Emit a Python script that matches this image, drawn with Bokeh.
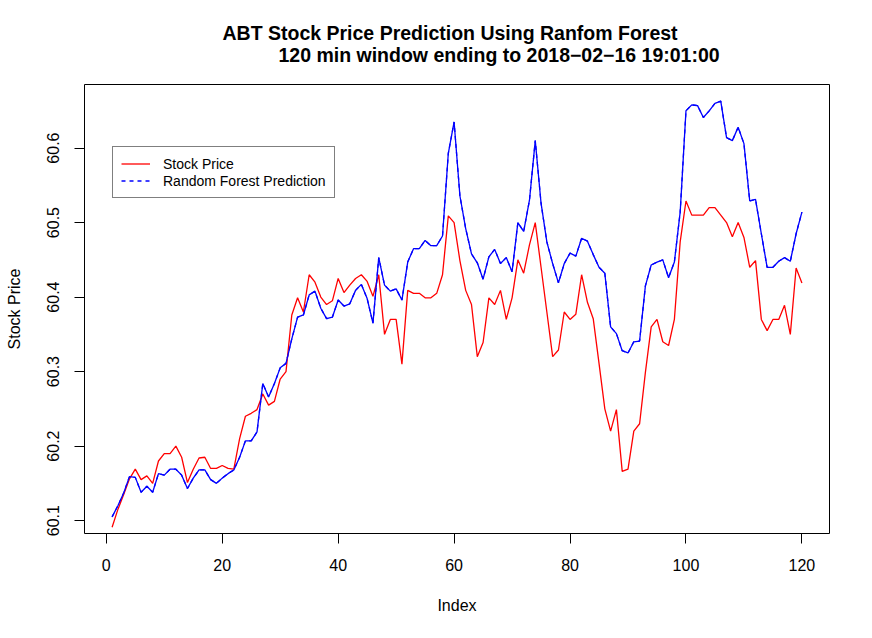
from bokeh.plotting import figure
from bokeh.models import Range1d, Title, Legend, LegendItem, FixedTicker
from bokeh.embed import file_html
from bokeh.resources import INLINE

index = list(range(1, 121))

stock_price = [
    60.091, 60.115, 60.135, 60.156, 60.169, 60.155, 60.160, 60.150, 60.180, 60.190,
    60.190, 60.200, 60.185, 60.151, 60.169, 60.184, 60.185, 60.170, 60.170, 60.174,
    60.170, 60.169, 60.210, 60.240, 60.244, 60.249, 60.270, 60.255, 60.260, 60.290,
    60.300, 60.376, 60.399, 60.380, 60.430, 60.420, 60.400, 60.390, 60.395, 60.425,
    60.406, 60.416, 60.425, 60.430, 60.421, 60.401, 60.430, 60.350, 60.370, 60.370,
    60.310, 60.409, 60.405, 60.405, 60.399, 60.399, 60.405, 60.430, 60.509, 60.500,
    60.449, 60.409, 60.390, 60.320, 60.339, 60.399, 60.390, 60.409, 60.370, 60.399,
    60.450, 60.432, 60.470, 60.500, 60.440, 60.380, 60.320, 60.329, 60.380, 60.370,
    60.377, 60.430, 60.393, 60.371, 60.311, 60.250, 60.220, 60.249, 60.166, 60.169,
    60.220, 60.230, 60.299, 60.360, 60.370, 60.340, 60.335, 60.370, 60.474, 60.529,
    60.510, 60.510, 60.510, 60.520, 60.520, 60.510, 60.500, 60.481, 60.500, 60.480,
    60.440, 60.449, 60.370, 60.355, 60.370, 60.370, 60.389, 60.350, 60.439, 60.419,
]

rf_prediction = [
    60.105, 60.120, 60.137, 60.159, 60.158, 60.138, 60.146, 60.138, 60.163, 60.161,
    60.169, 60.169, 60.161, 60.143, 60.157, 60.168, 60.168, 60.155, 60.150, 60.157,
    60.163, 60.168, 60.185, 60.207, 60.207, 60.219, 60.284, 60.266, 60.284, 60.305,
    60.311, 60.344, 60.373, 60.376, 60.403, 60.408, 60.385, 60.371, 60.373, 60.396,
    60.388, 60.391, 60.409, 60.417, 60.398, 60.365, 60.453, 60.416, 60.408, 60.411,
    60.396, 60.447, 60.465, 60.465, 60.476, 60.469, 60.469, 60.482, 60.593, 60.635,
    60.536, 60.492, 60.458, 60.446, 60.424, 60.454, 60.464, 60.445, 60.453, 60.434,
    60.500, 60.488, 60.530, 60.610, 60.526, 60.474, 60.445, 60.419, 60.445, 60.459,
    60.455, 60.479, 60.475, 60.457, 60.440, 60.432, 60.360, 60.351, 60.328, 60.325,
    60.340, 60.341, 60.415, 60.443, 60.447, 60.450, 60.426, 60.447, 60.514, 60.650,
    60.658, 60.657, 60.641, 60.650, 60.660, 60.663, 60.614, 60.610, 60.628, 60.606,
    60.529, 60.531, 60.485, 60.440, 60.440, 60.448, 60.453, 60.448, 60.485, 60.514,
]

x_ticks = [0, 20, 40, 60, 80, 100, 120]
y_ticks = [60.1, 60.2, 60.3, 60.4, 60.5, 60.6]

title_line1 = "ABT Stock Price Prediction Using Ranfom Forest"
title_line2 = "120 min window ending to 2018\u221202\u221216 19:01:00"
x_label = "Index"
y_label = "Stock Price"
legend_labels = ["Stock Price", "Random Forest Prediction"]

FONT = "Liberation Sans"

# R-style 4% axis extension
x_pad = (max(index) - min(index)) * 0.04
y_pad = (max(rf_prediction) - min(rf_prediction)) * 0.04

p = figure(
    width=872, height=638,
    output_backend="svg", toolbar_location=None,
    x_range=Range1d(min(index) - x_pad, max(index) + x_pad),
    y_range=Range1d(min(rf_prediction) - y_pad, max(rf_prediction) + y_pad),
    min_border_left=84, min_border_right=43, min_border_top=84, min_border_bottom=105,
    background_fill_color="white", border_fill_color="white",
)
p.title.visible = False
p.xgrid.visible = False
p.ygrid.visible = False
p.outline_line_color = "#000000"
p.outline_line_width = 1

for ax in (p.xaxis[0], p.yaxis[0]):
    ax.axis_line_color = None
    ax.major_tick_in = 0
    ax.major_tick_out = 10
    ax.major_tick_line_color = "#000000"
    ax.major_tick_line_width = 1
    ax.minor_tick_line_color = None
    ax.major_label_text_font = FONT
    ax.major_label_text_font_size = "16px"
    ax.major_label_text_color = "#000000"
    ax.axis_label_text_font = FONT
    ax.axis_label_text_font_size = "16px"
    ax.axis_label_text_font_style = "normal"
    ax.axis_label_text_color = "#000000"

p.xaxis.ticker = FixedTicker(ticks=x_ticks)
p.yaxis.ticker = FixedTicker(ticks=y_ticks)
p.xaxis.major_label_standoff = 15
p.yaxis.major_label_standoff = 15
p.yaxis.major_label_orientation = "vertical"
p.xaxis.axis_label = x_label
p.yaxis.axis_label = y_label
p.xaxis.axis_label_standoff = 23
p.yaxis.axis_label_standoff = 22

# dashed copy underneath (used only for the legend swatch), solid lines on top
blue_dashed = p.line(index, rf_prediction, line_color="#0000FF", line_width=1.3, line_dash="4 4")
red_line = p.line(index, stock_price, line_color="#FF0000", line_width=1.3)
blue_line = p.line(index, rf_prediction, line_color="#0000FF", line_width=1.3)

legend = Legend(
    items=[LegendItem(label=legend_labels[0], renderers=[red_line]),
           LegendItem(label=legend_labels[1], renderers=[blue_dashed])],
    location=(28, 335),
    border_line_color="#000000", border_line_width=1,
    background_fill_color="white", background_fill_alpha=1.0,
    padding=8, spacing=0, margin=0,
    glyph_width=29, glyph_height=17, label_height=17, label_standoff=13,
    label_text_font=FONT, label_text_font_size="14px", label_text_color="#000000",
)
p.add_layout(legend)

spacer = Title(text=" ", align="left", text_font=FONT, text_font_size="16px",
               text_color="white", standoff=0)
t2 = Title(text=title_line2, align="left", offset=194, text_font=FONT,
           text_font_size="19.5px", text_font_style="bold", text_color="#000000",
           standoff=0)
t1 = Title(text=title_line1, align="left", offset=138, text_font=FONT,
           text_font_size="19.5px", text_font_style="bold", text_color="#000000",
           standoff=-4)
p.add_layout(spacer, "above")
p.add_layout(t2, "above")
p.add_layout(t1, "above")

open("out.html", "w").write(file_html(p, INLINE))
